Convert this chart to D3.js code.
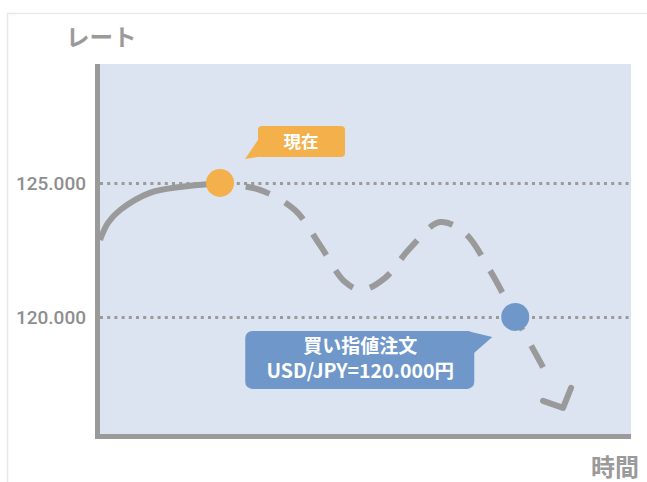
<!DOCTYPE html>
<html>
<head>
<meta charset="utf-8">
<script src="https://cdn.jsdelivr.net/npm/d3@7"></script>
<style>
  body { margin: 0; background: #fff; }
  svg { display: block; font-family: "Noto Sans CJK JP", "Noto Sans", sans-serif; }
</style>
</head>
<body>
<svg id="chart" width="647" height="482"></svg>
<script>
// time (0-100) and rate values
var pastTime = [0, 1.5, 3.8, 9.4, 15.1, 20.7, 22.6]
var pastRate = [122.87, 123.51, 123.99, 124.63, 124.85, 124.96, 125.0]

var forecastTime = [22.6, 30.1, 36.7, 41.4, 46.1, 49.3, 53.7, 58.4, 64.0, 68.7, 73.4, 78.2, 82.9, 87.2]
var forecastRate = [125.0, 124.74, 123.99, 122.69, 121.31, 121.01, 121.46, 122.57, 123.54, 123.13, 121.75, 120.0, 118.32, 116.72]

var yTicks = [120, 125]
var nowPoint = { time: 22.6, rate: 125 }
var orderPoint = { time: 78.2, rate: 120 }

var svg = d3.select('#chart')
var plotLeft = 100, plotRight = 631, plotTop = 64, plotBottom = 434

const xScale = d3.scaleLinear().domain([0, 100]).range([plotLeft, plotRight])
const yScale = d3.scaleLinear().domain([115.63, 129.44]).range([plotBottom, plotTop])

// outer frame
svg.append('path')
  .attr('d', 'M7.5,482 L7.5,13.5 L647,13.5')
  .attr('fill', 'none')
  .attr('stroke', '#e8e8e8')
  .attr('stroke-width', 1.5)

// plot background
svg.append('rect')
  .attr('x', plotLeft).attr('y', plotTop)
  .attr('width', plotRight - plotLeft).attr('height', plotBottom - plotTop)
  .attr('fill', '#dce3f1')

// dotted grid lines on ticks
svg.append('g')
  .attr('id', 'gridy')
  .attr('transform', 'translate(' + plotLeft + ',0)')
  .call(d3.axisRight(yScale).tickValues(yTicks).tickSize(plotRight - plotLeft).tickFormat(''))
  .call(function (g) { g.select('.domain').remove() })
  .selectAll('line')
  .attr('stroke', '#9a9a9a')
  .attr('stroke-width', 3)
  .attr('stroke-dasharray', '3 4.2')

// tick labels
svg.append('g')
  .attr('transform', 'translate(89,0)')
  .call(d3.axisLeft(yScale).tickValues(yTicks).tickSize(0).tickFormat(d3.format('.3f')))
  .call(function (g) { g.select('.domain').remove() })
  .selectAll('text')
  .attr('fill', '#8e8e8e')
  .attr('font-size', 19)
  .attr('font-weight', 500)
  .attr('font-family', 'Roboto, "Noto Sans", sans-serif')

// axis lines
svg.append('line')
  .attr('x1', 97.5).attr('x2', 97.5).attr('y1', plotTop).attr('y2', plotBottom + 5)
  .attr('stroke', '#9a9a9a').attr('stroke-width', 5)
svg.append('line')
  .attr('x1', 95).attr('x2', plotRight).attr('y1', plotBottom + 2.5).attr('y2', plotBottom + 2.5)
  .attr('stroke', '#9a9a9a').attr('stroke-width', 5)

// axis titles
svg.append('text')
  .attr('x', 66).attr('y', 46)
  .attr('fill', '#9a9a9a').attr('font-size', 23.5).attr('font-weight', 700)
  .text('レート')
svg.append('text')
  .attr('x', 639).attr('y', 476)
  .attr('text-anchor', 'end')
  .attr('fill', '#9a9a9a').attr('font-size', 24).attr('font-weight', 700)
  .text('時間')

var line = d3.line()
  .x(function (d) { return xScale(d[0]) })
  .y(function (d) { return yScale(d[1]) })
  .curve(d3.curveCatmullRom)

// past rate
svg.append('path')
  .datum(d3.zip(pastTime, pastRate))
  .attr('d', line)
  .attr('fill', 'none')
  .attr('stroke', '#9a9a9a')
  .attr('stroke-width', 6)

// forecast (dashed), pattern fitted so it starts after the marker and stops short of the arrow tip
var fc = d3.zip(forecastTime, forecastRate)
var fcPath = svg.append('path')
  .datum(fc)
  .attr('d', line)
  .attr('fill', 'none')
  .attr('stroke', '#9a9a9a')
  .attr('stroke-width', 6)

var total = fcPath.node().getTotalLength()
var s0 = 26, s1 = total - 42
var n = Math.round((s1 - s0 + 17) / 41)
var period = (s1 - s0 + 17) / n
var dashLen = period * 24 / 41, gapLen = period - dashLen
var pattern = [0, s0]
for (var i = 0; i < n; i++) pattern.push(dashLen, i < n - 1 ? gapLen : total + 50)
fcPath.attr('stroke-dasharray', pattern.join(' '))

// arrow head at end of forecast
var tip = fc[fc.length - 1]
var tx = xScale(tip[0]), ty = yScale(tip[1]) + 3
svg.append('path')
  .attr('d', 'M' + (tx - 20) + ',' + (ty - 7) + ' L' + tx + ',' + ty + ' L' + (tx + 8) + ',' + (ty - 20))
  .attr('fill', 'none')
  .attr('stroke', '#9a9a9a')
  .attr('stroke-width', 6)
  .attr('stroke-linecap', 'round')
  .attr('stroke-linejoin', 'round')

// markers
svg.append('circle')
  .attr('cx', xScale(nowPoint.time)).attr('cy', yScale(nowPoint.rate))
  .attr('r', 14).attr('fill', '#f3b04b')
svg.append('circle')
  .attr('cx', xScale(orderPoint.time)).attr('cy', yScale(orderPoint.rate))
  .attr('r', 14).attr('fill', '#7097c9')

// callout: now
var nx = xScale(nowPoint.time), ny = yScale(nowPoint.rate)
svg.append('path')
  .attr('d', 'M' + (nx + 38) + ',' + (ny - 43) + ' L' + (nx + 25) + ',' + (ny - 24) + ' L' + (nx + 52) + ',' + (ny - 28) + 'Z')
  .attr('fill', '#f3b04b')
svg.append('rect')
  .attr('x', nx + 38).attr('y', ny - 57)
  .attr('width', 87).attr('height', 31).attr('rx', 4)
  .attr('fill', '#f3b04b')
svg.append('text')
  .attr('x', nx + 81).attr('y', ny - 35)
  .attr('text-anchor', 'middle')
  .attr('fill', '#fff').attr('font-size', 17.5).attr('font-weight', 700)
  .text('現在')

// callout: limit order
var ox = xScale(orderPoint.time), oy = yScale(orderPoint.rate)
svg.append('path')
  .attr('d', 'M' + (ox - 48) + ',' + (oy + 14) + ' L' + (ox - 23) + ',' + (oy + 20) + ' L' + (ox - 48) + ',' + (oy + 42) + 'Z')
  .attr('fill', '#7097c9')
svg.append('rect')
  .attr('x', ox - 270).attr('y', oy + 14)
  .attr('width', 229).attr('height', 58).attr('rx', 7)
  .attr('fill', '#7097c9')
svg.append('text')
  .attr('x', ox - 155).attr('y', oy + 36)
  .attr('text-anchor', 'middle')
  .attr('fill', '#fff').attr('font-size', 19).attr('font-weight', 700)
  .text('買い指値注文')
svg.append('text')
  .attr('x', ox - 155).attr('y', oy + 61)
  .attr('text-anchor', 'middle')
  .attr('fill', '#fff').attr('font-size', 19.5).attr('font-weight', 700)
  .text('USD/JPY=120.000円')
</script>
</body>
</html>
